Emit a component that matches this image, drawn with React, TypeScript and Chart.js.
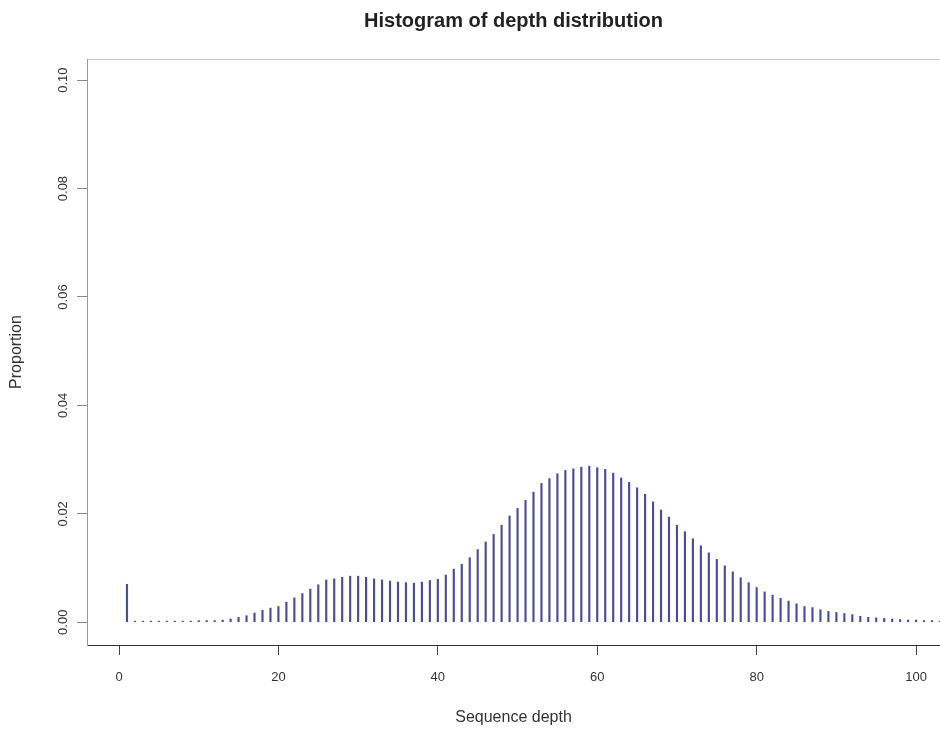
import React, { useEffect, useRef } from "react";
import { Chart, registerables } from "chart.js";

Chart.register(...registerables);

const TITLE = "Histogram of depth distribution";
const X_TITLE = "Sequence depth";
const Y_TITLE = "Proportion";

const DEPTH = [
  1, 2, 3, 4, 5, 6, 7, 8, 9, 10, 11, 12, 13, 14, 15, 16, 17, 18, 19, 20,
  21, 22, 23, 24, 25, 26, 27, 28, 29, 30, 31, 32, 33, 34, 35, 36, 37, 38, 39, 40,
  41, 42, 43, 44, 45, 46, 47, 48, 49, 50, 51, 52, 53, 54, 55, 56, 57, 58, 59, 60,
  61, 62, 63, 64, 65, 66, 67, 68, 69, 70, 71, 72, 73, 74, 75, 76, 77, 78, 79, 80,
  81, 82, 83, 84, 85, 86, 87, 88, 89, 90, 91, 92, 93, 94, 95, 96, 97, 98, 99, 100,
  101, 102, 103,
];

const PROPORTION = [
  0.0070, 0.0002, 0.0002, 0.0002, 0.0002, 0.0002, 0.0002, 0.0002, 0.0002, 0.0003,
  0.0003, 0.0003, 0.0004, 0.0006, 0.0009, 0.0012, 0.0017, 0.0022, 0.0026, 0.0029,
  0.0037, 0.0045, 0.0053, 0.0061, 0.0069, 0.0078, 0.0080, 0.0083, 0.0085, 0.0085,
  0.0083, 0.0080, 0.0078, 0.0076, 0.0074, 0.0073, 0.0072, 0.0074, 0.0077, 0.0079,
  0.0087, 0.0098, 0.0107, 0.0119, 0.0134, 0.0148, 0.0162, 0.0179, 0.0196, 0.0210,
  0.0225, 0.0240, 0.0256, 0.0265, 0.0274, 0.0280, 0.0283, 0.0286, 0.0288, 0.0285,
  0.0282, 0.0275, 0.0266, 0.0258, 0.0248, 0.0236, 0.0222, 0.0207, 0.0194, 0.0179,
  0.0167, 0.0154, 0.0141, 0.0128, 0.0116, 0.0104, 0.0093, 0.0082, 0.0073, 0.0064,
  0.0056, 0.0050, 0.0044, 0.0039, 0.0034, 0.0029, 0.0027, 0.0023, 0.0020, 0.0018,
  0.0016, 0.0014, 0.0011, 0.0009, 0.0008, 0.0007, 0.0006, 0.0005, 0.0004, 0.0004,
  0.0003, 0.0003, 0.0002,
];

const X_TICKS = [0, 20, 40, 60, 80, 100];
const Y_TICKS = [0, 0.02, 0.04, 0.06, 0.08, 0.1];

const FONT = "'Liberation Sans', Arial, Helvetica, sans-serif";

const zeroPad = (s: any) => {
  s.paddingLeft = 0;
  s.paddingRight = 0;
  s.paddingTop = 0;
  s.paddingBottom = 0;
};

export default function App() {
  const ref = useRef<HTMLCanvasElement>(null);

  useEffect(() => {
    const canvas = ref.current;
    if (!canvas) return;
    const chart = new Chart(canvas, {
      type: "bar",
      data: {
        datasets: [
          {
            data: DEPTH.map((d, i) => ({ x: d, y: PROPORTION[i] })),
            backgroundColor: "rgb(72,78,152)",
            borderWidth: 0,
            barThickness: 1.5,
            grouped: false,
          } as any,
        ],
      },
      options: {
        responsive: false,
        animation: false,
        events: [],
        layout: { padding: 0 },
        font: { family: FONT },
        plugins: {
          legend: { display: false },
          tooltip: { enabled: false },
          title: {
            display: true,
            text: TITLE,
            fullSize: false,
            color: "#222",
            font: { family: FONT, size: 20, weight: "bold" },
            padding: { top: 9, bottom: 26 },
          },
        },
        scales: {
          x: {
            type: "linear",
            position: "bottom",
            offset: false,
            min: -4.015,
            max: 103,
            afterBuildTicks: (s: any) => {
              s.ticks = X_TICKS.map((v) => ({ value: v }));
            },
            afterFit: (s: any) => {
              s.height = 87;
              zeroPad(s);
            },
            ticks: {
              autoSkip: false,
              maxRotation: 0,
              minRotation: 0,
              padding: 15,
              color: "#333",
              font: { family: FONT, size: 13 },
              callback: (v: any) => String(v),
            },
            grid: {
              display: true,
              offset: false,
              drawOnChartArea: false,
              drawTicks: true,
              tickLength: 10,
              color: "#444",
            },
            border: { display: true, color: "#333", width: 1 },
            title: {
              display: true,
              text: X_TITLE,
              color: "#333",
              font: { family: FONT, size: 16 },
              padding: { top: 0, bottom: 5 },
            },
          },
          xTop: {
            type: "linear",
            position: "top",
            offset: false,
            min: -4.015,
            max: 103,
            ticks: { display: false },
            grid: { display: false, drawTicks: false },
            border: { display: true, color: "#c8c8c8", width: 1 },
            afterFit: (s: any) => {
              s.height = 0;
              zeroPad(s);
            },
          },
          y: {
            type: "linear",
            position: "left",
            min: -0.0042,
            max: 0.1039,
            afterBuildTicks: (s: any) => {
              s.ticks = Y_TICKS.map((v) => ({ value: v }));
            },
            afterFit: (s: any) => {
              s.width = 87;
              zeroPad(s);
            },
            ticks: {
              autoSkip: false,
              minRotation: 90,
              maxRotation: 90,
              crossAlign: "center",
              padding: 1,
              color: "#333",
              font: { family: FONT, size: 13 },
              callback: (v: any) => Number(v).toFixed(2),
            },
            grid: {
              display: true,
              drawOnChartArea: false,
              drawTicks: true,
              tickLength: 10,
              color: "#888",
            },
            border: { display: true, color: "#999", width: 1 },
            title: {
              display: true,
              text: Y_TITLE,
              color: "#333",
              font: { family: FONT, size: 16 },
              padding: { top: 7, bottom: 0 },
            },
          },
        },
      } as any,
    });
    return () => chart.destroy();
  }, []);

  return (
    <div
      style={{
        position: "absolute",
        left: 0,
        top: 0,
        width: 940,
        height: 732,
        background: "#fff",
      }}
    >
      <canvas ref={ref} width={940} height={732} style={{ display: "block" }} />
    </div>
  );
}
